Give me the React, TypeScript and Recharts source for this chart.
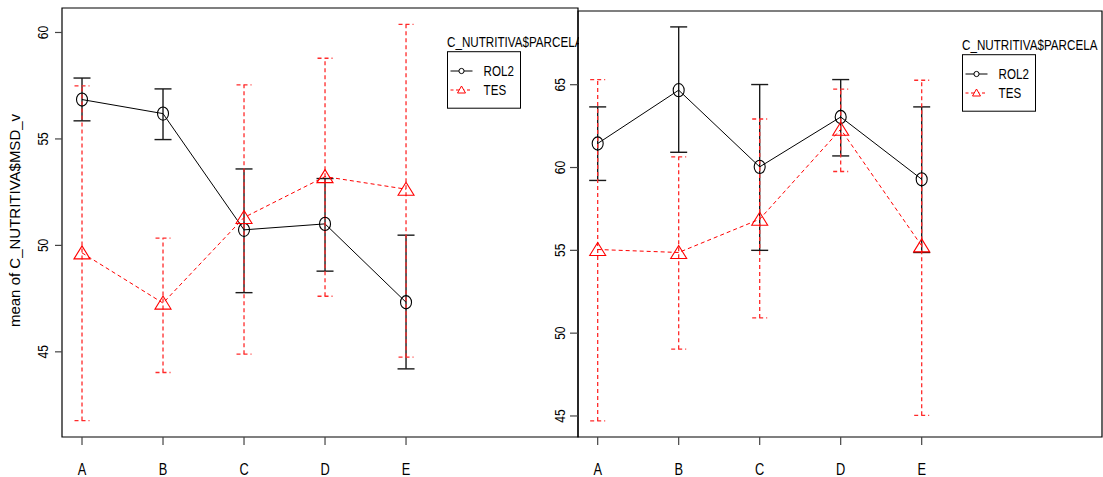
import React from 'react';
import { ComposedChart, Line, XAxis, YAxis, ErrorBar, ReferenceArea, Legend } from 'recharts';

const categories = ['A', 'B', 'C', 'D', 'E'];
const groups = ['ROL2', 'TES'];

// Panel 1: mean of C_NUTRITIVA$MSD_v with confidence limits
const msdRol2Mean = [56.85, 56.19, 50.73, 51.01, 47.33];
const msdRol2Lower = [55.85, 54.97, 47.78, 48.79, 44.2];
const msdRol2Upper = [57.86, 57.35, 53.59, 53.14, 50.48];
const msdTesMean = [49.65, 47.29, 51.31, 53.23, 52.64];
const msdTesLower = [41.77, 44.03, 44.89, 47.61, 44.75];
const msdTesUpper = [57.49, 50.34, 57.54, 58.79, 60.38];

// Panel 2: second response, same grouping
const p2Rol2Mean = [61.45, 64.67, 60.04, 63.05, 59.29];
const p2Rol2Lower = [59.22, 60.92, 55.0, 60.7, 54.87];
const p2Rol2Upper = [63.66, 68.49, 65.01, 65.31, 63.66];
const p2TesMean = [55.05, 54.87, 56.88, 62.31, 55.27];
const p2TesLower = [44.7, 49.03, 50.92, 59.76, 45.04];
const p2TesUpper = [65.31, 60.64, 62.93, 64.73, 65.27];

const leftYTicks = [45, 50, 55, 60];
const rightYTicks = [45, 50, 55, 60, 65];

const FONT = '"Liberation Sans", Arial, sans-serif';
const RED = '#ff0000';
const NARROW_SCALE = 0.8;

function buildRows(
  rMean: number[], rLow: number[], rUp: number[],
  tMean: number[], tLow: number[], tUp: number[]
) {
  return categories.map((cat, i) => ({
    idx: i,
    cat,
    rol2: rMean[i],
    rol2Err: [rMean[i] - rLow[i], rUp[i] - rMean[i]],
    tes: tMean[i],
    tesErr: [tMean[i] - tLow[i], tUp[i] - tMean[i]],
  }));
}

const leftRows = buildRows(msdRol2Mean, msdRol2Lower, msdRol2Upper, msdTesMean, msdTesLower, msdTesUpper);
const rightRows = buildRows(p2Rol2Mean, p2Rol2Lower, p2Rol2Upper, p2TesMean, p2TesLower, p2TesUpper);

// Width of a string in the regular face, used to squeeze labels into a condensed look
let measureCtx: CanvasRenderingContext2D | null = null;
function textWidth(s: string, size: number): number {
  if (!measureCtx && typeof document !== 'undefined') {
    measureCtx = document.createElement('canvas').getContext('2d');
  }
  if (!measureCtx) return s.length * size * 0.55;
  measureCtx.font = `${size}px "Liberation Sans", Arial, sans-serif`;
  return measureCtx.measureText(s).width;
}

const NText = ({
  x, y, size, anchor = 'start', rotate = 0, dy, scale = NARROW_SCALE, children,
}: {
  x: number; y: number; size: number; anchor?: 'start' | 'middle' | 'end'; rotate?: number; dy?: string;
  scale?: number; children: any;
}) => {
  const s = String(children);
  return (
    <text
      x={x}
      y={y}
      dy={dy}
      transform={rotate ? `rotate(${rotate} ${x} ${y})` : undefined}
      textAnchor={anchor}
      fontFamily={FONT}
      fontSize={size}
      fill="#000"
      textLength={textWidth(s, size) * scale}
      lengthAdjust="spacingAndGlyphs"
    >
      {s}
    </text>
  );
};

const CircleDot = (props: any) => {
  const { cx, cy, index } = props;
  if (cx == null || cy == null) return null;
  return (
    <ellipse key={`o-${index}`} cx={cx} cy={cy} rx={5.5} ry={6.6} fill="none" stroke="#000" strokeWidth={1.1} />
  );
};

const TriangleDot = (props: any) => {
  const { cx, cy, index } = props;
  if (cx == null || cy == null) return null;
  const pts = `${cx - 8},${cy + 6} ${cx},${cy - 7} ${cx + 8},${cy + 6}`;
  return <polygon key={`t-${index}`} points={pts} fill="none" stroke={RED} strokeWidth={1.1} />;
};

const XTick = (props: any) => {
  const { x, y, payload } = props;
  return (
    <NText x={x} y={y} size={16} anchor="middle" dy="0.71em">
      {categories[payload.value]}
    </NText>
  );
};

const YTick = (props: any) => {
  const { x, y, payload } = props;
  return (
    <NText x={x} y={y} size={15} anchor="middle" rotate={-90}>
      {payload.value}
    </NText>
  );
};

const YTitle = (props: any) => {
  const { viewBox } = props;
  if (!viewBox) return null;
  const x = viewBox.x + 20;
  const y = viewBox.y + viewBox.height / 2 - 2;
  return (
    <text x={x} y={y} transform={`rotate(-90 ${x} ${y})`} textAnchor="middle" fontFamily={FONT} fontSize={15} fill="#000">
      mean of C_NUTRITIVA$MSD_v
    </text>
  );
};

const LegendBox = ({ title }: { title: string }) => (
  <svg width={138} height={82} style={{ display: 'block', overflow: 'visible' }}>
    <NText x={0} y={16.7} size={14.5} scale={0.803}>{title}</NText>
    <rect x={0.5} y={21.7} width={73} height={56.5} fill="none" stroke="#000" strokeWidth={1} />
    <line x1={3.5} x2={25.5} y1={41} y2={41} stroke="#000" strokeWidth={1} />
    <circle cx={14.5} cy={41} r={2.6} fill="#fff" stroke="#000" strokeWidth={1} />
    <NText x={36.6} y={46.3} size={14.5}>{groups[0]}</NText>
    <line x1={3.5} x2={25.5} y1={60} y2={60} stroke={RED} strokeWidth={1} strokeDasharray="3 2.5" />
    <polygon points="10.5,63 14.5,56 18.5,63" fill="#fff" stroke={RED} strokeWidth={1} />
    <NText x={36.6} y={65.3} size={14.5}>{groups[1]}</NText>
  </svg>
);

type PanelProps = {
  rows: any[];
  width: number;
  margin: { top: number; right: number; bottom: number; left: number };
  yAxisWidth: number;
  xDomain: [number, number];
  yDomain: [number, number];
  yTicks: number[];
  yTickSize: number;
  yTickMargin: number;
  showYTitle: boolean;
  legendTitle: string;
  legendLeft: number;
  legendTop: number;
};

const Panel = (p: PanelProps) => (
  <ComposedChart width={p.width} height={477} data={p.rows} margin={p.margin}>
    <ReferenceArea
      x1={p.xDomain[0]}
      x2={p.xDomain[1]}
      y1={p.yDomain[0]}
      y2={p.yDomain[1]}
      fill="none"
      fillOpacity={0}
      stroke="#000"
      strokeWidth={1.2}
      ifOverflow="visible"
    />
    <XAxis
      dataKey="idx"
      type="number"
      domain={p.xDomain}
      allowDataOverflow
      ticks={[0, 1, 2, 3, 4]}
      axisLine={false}
      tickLine={{ stroke: '#444', strokeWidth: 1.2 }}
      tickSize={8}
      tickMargin={19}
      height={40}
      tick={<XTick />}
      interval={0}
    />
    <YAxis
      type="number"
      domain={p.yDomain}
      allowDataOverflow
      ticks={p.yTicks}
      axisLine={false}
      tickLine={{ stroke: '#444', strokeWidth: 1.2 }}
      tickSize={p.yTickSize}
      tickMargin={p.yTickMargin}
      width={p.yAxisWidth}
      tick={<YTick />}
      interval={0}
      label={p.showYTitle ? <YTitle /> : undefined}
    />
    <Line
      dataKey="rol2"
      stroke="#000"
      strokeWidth={1}
      dot={<CircleDot />}
      activeDot={false}
      isAnimationActive={false}
    >
      <ErrorBar dataKey="rol2Err" direction="y" width={8.5} stroke="#1a1a1a" strokeWidth={1.4} isAnimationActive={false} />
    </Line>
    <Line
      dataKey="tes"
      stroke={RED}
      strokeWidth={1}
      strokeDasharray="4 3"
      dot={<TriangleDot />}
      activeDot={false}
      isAnimationActive={false}
    >
      <ErrorBar
        dataKey="tesErr"
        direction="y"
        width={7.5}
        stroke="#ff2a2a"
        strokeWidth={1.3}
        strokeDasharray="4 3"
        isAnimationActive={false}
      />
    </Line>
    <Legend
      layout="horizontal"
      verticalAlign="middle"
      align="center"
      content={() => <LegendBox title={p.legendTitle} />}
      wrapperStyle={{ left: p.legendLeft, top: p.legendTop, width: 138, height: 82 }}
    />
  </ComposedChart>
);

export default function App() {
  return (
    <div
      style={{
        position: 'absolute',
        left: 0,
        top: 0,
        width: 1103,
        height: 477,
        background: '#fff',
        overflow: 'hidden',
      }}
    >
      <div style={{ position: 'absolute', left: 0, top: 0, width: 579, height: 477, overflow: 'hidden' }}>
        <Panel
          rows={leftRows}
          width={580}
          margin={{ top: 8, right: 2, bottom: 0, left: 0 }}
          yAxisWidth={62}
          xDomain={[-0.247, 6.123]}
          yDomain={[41.0, 61.15]}
          yTicks={leftYTicks}
          yTickSize={7}
          yTickMargin={6.5}
          showYTitle
          legendTitle="C_NUTRITIVA$PARCELA"
          legendLeft={446.7}
          legendTop={30}
        />
      </div>
      <div style={{ position: 'absolute', left: 518, top: 0, width: 585, height: 477 }}>
        <Panel
          rows={rightRows}
          width={585}
          margin={{ top: 11, right: 1, bottom: 0, left: 0 }}
          yAxisWidth={60}
          xDomain={[-0.243, 6.226]}
          yDomain={[43.73, 69.45]}
          yTicks={rightYTicks}
          yTickSize={8}
          yTickMargin={5}
          showYTitle={false}
          legendTitle="C_NUTRITIVA$PARCELA"
          legendLeft={444}
          legendTop={33}
        />
      </div>
    </div>
  );
}
